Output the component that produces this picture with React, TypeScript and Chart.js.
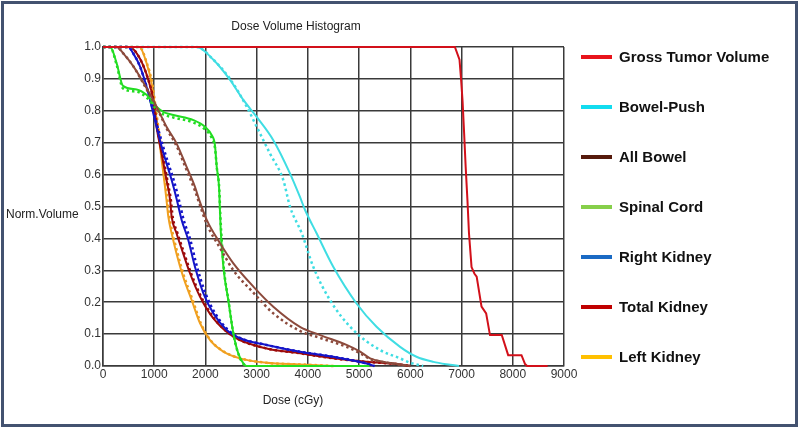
import React, { useEffect, useRef } from "react";
import { Chart, registerables } from "chart.js";

Chart.register(...registerables);

// ---------- axis ticks ----------
const xTickValues = [0, 1000, 2000, 3000, 4000, 5000, 6000, 7000, 8000, 9000];
const xTickLabels = ["0", "1000", "2000", "3000", "4000", "5000", "6000", "7000", "8000", "9000"];
const yTickValues = [0, 0.1, 0.2, 0.3, 0.4, 0.5, 0.6, 0.7, 0.8, 0.9, 1.0];
const yTickLabels = ["0.0", "0.1", "0.2", "0.3", "0.4", "0.5", "0.6", "0.7", "0.8", "0.9", "1.0"];

// ---------- legend ----------
const seriesNames = [
  "Gross Tumor Volume",
  "Bowel-Push",
  "All Bowel",
  "Spinal Cord",
  "Right Kidney",
  "Total Kidney",
  "Left Kidney",
];
const legendColors = ["#e8141c", "#12dcef", "#561a0c", "#86cf4a", "#1a6ac4", "#c00000", "#ffc000"];
const curveColors = ["#d2101a", "#3fdde3", "#8c4a3c", "#22dd22", "#1414c8", "#9c0a0a", "#f0a020"];

// ---------- Gross Tumor Volume ----------
const gtvDose = [0, 6870, 6960, 6990, 7020, 7050, 7080, 7115, 7145, 7195, 7250, 7295, 7390, 7480, 7555, 7785, 7910, 8170, 8240, 8280, 8680];
const gtvVol = [1.0, 1.0, 0.96, 0.9, 0.83, 0.73, 0.625, 0.52, 0.416, 0.31, 0.29, 0.28, 0.186, 0.165, 0.097, 0.097, 0.034, 0.034, 0.006, 0.0, 0.0];

// ---------- Bowel-Push ----------
const bowelPushDose = [0, 1830, 2155, 2480, 2740, 3000, 3325, 3650, 3845, 3945, 4170, 4495, 4950, 5340, 5800, 6120, 6450, 6775, 6950];
const bowelPushVol = [1.0, 1.0, 0.96, 0.897, 0.834, 0.781, 0.708, 0.604, 0.53, 0.489, 0.416, 0.311, 0.196, 0.123, 0.06, 0.029, 0.013, 0.004, 0.0];
const bowelPushDose2 = [0, 1830, 2155, 2480, 2805, 3000, 3260, 3520, 3650, 3880, 4105, 4430, 4885, 5410, 5800, 6000, 6250];
const bowelPushVol2 = [1.0, 1.0, 0.96, 0.9, 0.813, 0.75, 0.666, 0.583, 0.5, 0.416, 0.311, 0.207, 0.113, 0.05, 0.024, 0.01, 0.0];

// ---------- All Bowel ----------
const allBowelDose = [0, 265, 395, 590, 720, 980, 1110, 1240, 1435, 1630, 1795, 1880, 2025, 2285, 2545, 2935, 3325, 3845, 4240, 4755, 5020, 5215, 5470, 6000];
const allBowelVol = [1.0, 1.0, 0.98, 0.94, 0.907, 0.834, 0.792, 0.75, 0.698, 0.625, 0.562, 0.52, 0.458, 0.385, 0.322, 0.249, 0.186, 0.123, 0.097, 0.066, 0.045, 0.024, 0.013, 0.0];
const allBowelDose2 = [0, 265, 395, 590, 720, 980, 1110, 1240, 1435, 1630, 1795, 1880, 2025, 2285, 2545, 2935, 3325, 3845, 4240, 4755, 5020, 5215, 5470, 6000];
const allBowelVol2 = [1.0, 1.0, 0.98, 0.94, 0.905, 0.83, 0.79, 0.745, 0.69, 0.615, 0.55, 0.51, 0.445, 0.37, 0.3, 0.23, 0.165, 0.11, 0.088, 0.06, 0.04, 0.022, 0.012, 0.0];

// ---------- Spinal Cord ----------
const spinalDose = [0, 140, 265, 390, 656, 850, 1045, 1175, 1375, 1765, 1990, 2120, 2185, 2220, 2265, 2285, 2300, 2350, 2445, 2545, 2640, 2740, 2800, 5200];
const spinalVol = [1.0, 1.0, 0.95, 0.878, 0.867, 0.85, 0.813, 0.797, 0.787, 0.771, 0.75, 0.724, 0.693, 0.625, 0.562, 0.48, 0.42, 0.311, 0.207, 0.102, 0.04, 0.008, 0.0, 0.0];
const spinalDose2 = [0, 140, 265, 390, 656, 850, 1045, 1175, 1375, 1765, 1990, 2120, 2185, 2225, 2270, 2290, 2310, 2360, 2455, 2550, 2645, 2745, 2800];
const spinalVol2 = [1.0, 1.0, 0.945, 0.87, 0.86, 0.842, 0.805, 0.789, 0.779, 0.763, 0.742, 0.716, 0.685, 0.617, 0.555, 0.475, 0.415, 0.305, 0.2, 0.097, 0.037, 0.006, 0.0];

// ---------- Right Kidney ----------
const rightKidDose = [0, 495, 590, 720, 850, 950, 1045, 1145, 1240, 1340, 1435, 1535, 1665, 1795, 1960, 2155, 2415, 2675, 3195, 3845, 4495, 5145, 5300];
const rightKidVol = [1.0, 1.0, 0.98, 0.94, 0.876, 0.813, 0.75, 0.687, 0.635, 0.583, 0.525, 0.458, 0.395, 0.311, 0.228, 0.165, 0.113, 0.087, 0.066, 0.045, 0.029, 0.008, 0.0];
const rightKidDose2 = [0, 495, 590, 720, 850, 960, 1065, 1175, 1275, 1380, 1475, 1575, 1705, 1835, 2000, 2190, 2440, 2690, 3195, 3845, 4495, 5145, 5300];
const rightKidVol2 = [1.0, 1.0, 0.98, 0.94, 0.876, 0.813, 0.75, 0.687, 0.635, 0.583, 0.525, 0.458, 0.395, 0.311, 0.228, 0.165, 0.113, 0.087, 0.066, 0.045, 0.029, 0.008, 0.0];

// ---------- Total Kidney ----------
const totalKidDose = [0, 510, 720, 885, 980, 1045, 1145, 1240, 1310, 1340, 1435, 1565, 1700, 1895, 2155, 2545, 3195, 3845, 4495, 5145, 5800, 6000];
const totalKidVol = [1.0, 1.0, 0.964, 0.897, 0.834, 0.75, 0.666, 0.583, 0.52, 0.468, 0.416, 0.353, 0.29, 0.217, 0.149, 0.092, 0.055, 0.04, 0.024, 0.013, 0.005, 0.0];
const totalKidDose2 = [0, 510, 720, 885, 985, 1055, 1160, 1255, 1325, 1360, 1455, 1585, 1720, 1915, 2170, 2555, 3195, 3845, 4495, 5145, 5800, 6000];
const totalKidVol2 = [1.0, 1.0, 0.964, 0.897, 0.834, 0.75, 0.666, 0.583, 0.52, 0.468, 0.416, 0.353, 0.29, 0.217, 0.149, 0.092, 0.055, 0.04, 0.024, 0.013, 0.005, 0.0];

// ---------- Left Kidney ----------
const leftKidDose = [0, 710, 850, 950, 1015, 1080, 1145, 1210, 1240, 1275, 1340, 1435, 1565, 1730, 1895, 2090, 2350, 2675, 3195, 3845, 4500];
const leftKidVol = [1.0, 1.0, 0.95, 0.886, 0.813, 0.73, 0.646, 0.562, 0.52, 0.468, 0.416, 0.353, 0.28, 0.207, 0.134, 0.081, 0.045, 0.024, 0.01, 0.005, 0.0];
const leftKidDose2 = [0, 710, 855, 960, 1025, 1095, 1160, 1225, 1260, 1295, 1360, 1455, 1585, 1750, 1910, 2100, 2360, 2680, 3195, 3845, 4500];
const leftKidVol2 = [1.0, 1.0, 0.95, 0.886, 0.813, 0.73, 0.646, 0.562, 0.52, 0.468, 0.416, 0.353, 0.28, 0.207, 0.134, 0.081, 0.045, 0.024, 0.01, 0.005, 0.0];

const titleText = "Dose Volume Histogram";
const xTitleText = "Dose (cGy)";
const yTitleText = "Norm.Volume";

const pts = (d: number[], v: number[]) => d.map((x, i) => ({ x, y: v[i] }));

const GRID = "#3a3a3a";
const FONT = "'Liberation Sans', Arial, sans-serif";

export default function App() {
  const ref = useRef<HTMLCanvasElement | null>(null);

  useEffect(() => {
    if (!ref.current) return;

    const solid = (label: string, d: number[], v: number[], color: string, tension = 0.25) => ({
      label,
      data: pts(d, v),
      borderColor: color,
      backgroundColor: color,
      borderWidth: 2,
      pointRadius: 0,
      tension,
      clip: 4,
      cubicInterpolationMode: "monotone" as const,
    });
    const dotted = (label: string, d: number[], v: number[], color: string) => ({
      label,
      data: pts(d, v),
      borderColor: color,
      backgroundColor: color,
      borderWidth: 2.5,
      borderDash: [2.5, 3],
      pointRadius: 0,
      clip: 4,
      cubicInterpolationMode: "monotone" as const,
    });

    const datasets: any[] = [
      { ...solid(seriesNames[0], gtvDose, gtvVol, curveColors[0]), cubicInterpolationMode: "default", tension: 0 },
      solid(seriesNames[1], bowelPushDose, bowelPushVol, curveColors[1]),
      dotted(seriesNames[1] + " (2)", bowelPushDose2, bowelPushVol2, curveColors[1]),
      solid(seriesNames[2], allBowelDose, allBowelVol, curveColors[2]),
      dotted(seriesNames[2] + " (2)", allBowelDose2, allBowelVol2, curveColors[2]),
      solid(seriesNames[3], spinalDose, spinalVol, curveColors[3]),
      dotted(seriesNames[3] + " (2)", spinalDose2, spinalVol2, curveColors[3]),
      solid(seriesNames[4], rightKidDose, rightKidVol, curveColors[4]),
      dotted(seriesNames[4] + " (2)", rightKidDose2, rightKidVol2, curveColors[4]),
      solid(seriesNames[5], totalKidDose, totalKidVol, curveColors[5]),
      dotted(seriesNames[5] + " (2)", totalKidDose2, totalKidVol2, curveColors[5]),
      solid(seriesNames[6], leftKidDose, leftKidVol, curveColors[6]),
      dotted(seriesNames[6] + " (2)", leftKidDose2, leftKidVol2, curveColors[6]),
    ];

    const overlay = {
      id: "overlayText",
      afterDraw(chart: any) {
        const ctx = chart.ctx;
        const a = chart.chartArea;
        ctx.save();
        ctx.fillStyle = "#222";
        ctx.font = `12px ${FONT}`;
        ctx.textAlign = "center";
        ctx.textBaseline = "middle";
        ctx.fillText(titleText, a.left + 193, 27);
        ctx.fillText(xTitleText, a.left + 190, 401);
        ctx.textAlign = "left";
        ctx.fillText(yTitleText, 6, 215);
        ctx.font = `bold 15px ${FONT}`;
        seriesNames.forEach((name, i) => {
          const y = a.top + 10 + i * 50;
          ctx.strokeStyle = legendColors[i];
          ctx.lineWidth = 4;
          ctx.beginPath();
          ctx.moveTo(a.right + 17, y);
          ctx.lineTo(a.right + 48, y);
          ctx.stroke();
          ctx.fillStyle = "#111";
          ctx.textAlign = "left";
          ctx.textBaseline = "middle";
          ctx.fillText(name, a.right + 55, y + 1);
        });
        ctx.restore();
      },
    };

    const chart = new Chart(ref.current, {
      type: "line",
      data: { datasets },
      options: {
        animation: false,
        responsive: false,
        devicePixelRatio: 1,
        layout: { padding: { left: 0, right: 236, top: 47, bottom: 0 } },
        plugins: {
          legend: { display: false },
          title: { display: false },
          tooltip: { enabled: false },
        },
        scales: {
          x: {
            type: "linear",
            min: 0,
            max: 9000,
            afterBuildTicks: (s: any) => {
              s.ticks = xTickValues.map((value) => ({ value }));
            },
            afterFit: (s: any) => {
              s.height = 63;
            },
            ticks: {
              autoSkip: false,
              maxRotation: 0,
              padding: 1,
              color: "#333",
              font: { family: FONT, size: 12 },
              callback: (_v: any, i: number) => xTickLabels[i],
            },
            grid: { color: GRID, lineWidth: 1.5, drawTicks: false },
            border: { display: true, color: GRID, width: 1.5 },
          },
          y: {
            type: "linear",
            min: 0,
            max: 1,
            afterBuildTicks: (s: any) => {
              s.ticks = yTickValues.map((value) => ({ value }));
            },
            afterFit: (s: any) => {
              s.width = 103;
            },
            ticks: {
              autoSkip: false,
              padding: 2,
              color: "#333",
              font: { family: FONT, size: 12 },
              callback: (_v: any, i: number) => yTickLabels[i],
            },
            grid: { color: GRID, lineWidth: 1.5, drawTicks: false },
            border: { display: true, color: GRID, width: 1.5 },
          },
        },
      },
      plugins: [overlay],
    });

    return () => chart.destroy();
  }, []);

  return (
    <div style={{ position: "absolute", left: 0, top: 0, width: 800, height: 429, background: "#fff" }}>
      <canvas ref={ref} width={800} height={429} style={{ display: "block", width: 800, height: 429 }} />
      <div
        style={{
          position: "absolute",
          left: 1,
          top: 1,
          width: 797,
          height: 426,
          boxSizing: "border-box",
          border: "3px solid #435270",
          pointerEvents: "none",
        }}
      />
    </div>
  );
}
